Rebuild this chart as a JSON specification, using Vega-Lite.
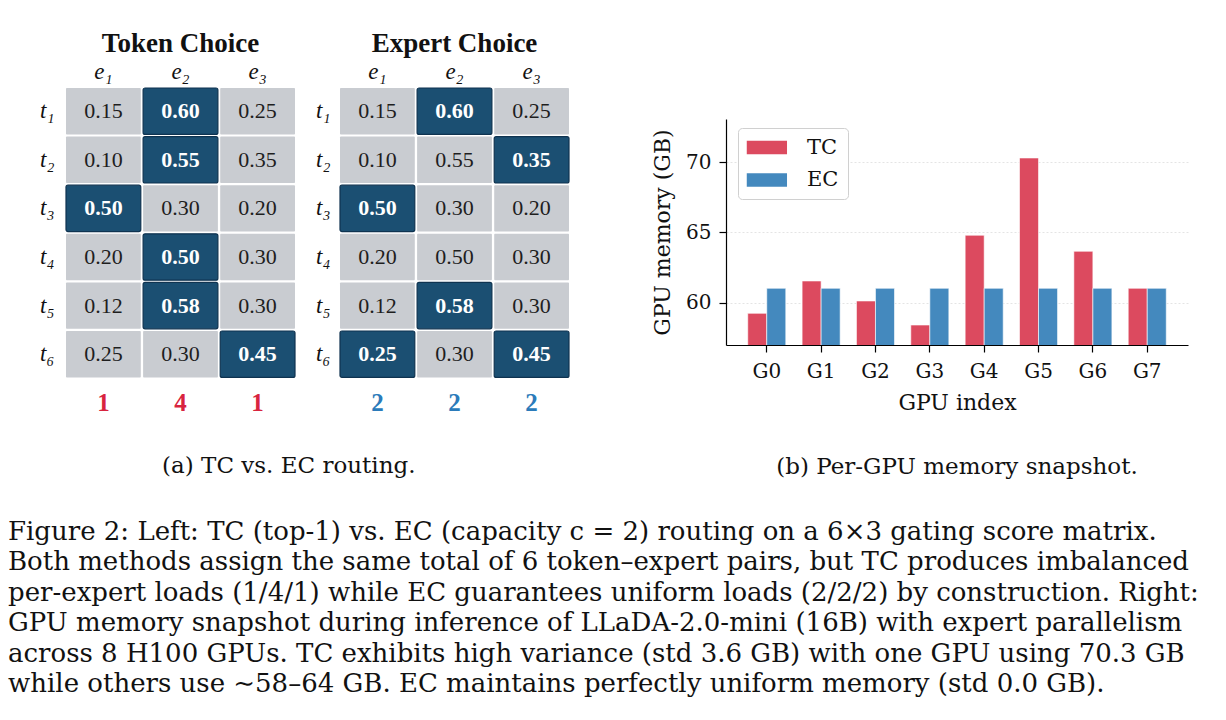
{
  "$schema": "https://vega.github.io/schema/vega-lite/v6.json",
  "background": "white",
  "padding": {"left": 8, "top": 30, "right": 5, "bottom": 5},
  "datasets": {
    "heat": [
      {"panel": "TC", "token": "t₁", "expert": "e₁", "score": 0.15, "sel": "no"},
      {"panel": "TC", "token": "t₁", "expert": "e₂", "score": 0.60, "sel": "yes"},
      {"panel": "TC", "token": "t₁", "expert": "e₃", "score": 0.25, "sel": "no"},
      {"panel": "TC", "token": "t₂", "expert": "e₁", "score": 0.10, "sel": "no"},
      {"panel": "TC", "token": "t₂", "expert": "e₂", "score": 0.55, "sel": "yes"},
      {"panel": "TC", "token": "t₂", "expert": "e₃", "score": 0.35, "sel": "no"},
      {"panel": "TC", "token": "t₃", "expert": "e₁", "score": 0.50, "sel": "yes"},
      {"panel": "TC", "token": "t₃", "expert": "e₂", "score": 0.30, "sel": "no"},
      {"panel": "TC", "token": "t₃", "expert": "e₃", "score": 0.20, "sel": "no"},
      {"panel": "TC", "token": "t₄", "expert": "e₁", "score": 0.20, "sel": "no"},
      {"panel": "TC", "token": "t₄", "expert": "e₂", "score": 0.50, "sel": "yes"},
      {"panel": "TC", "token": "t₄", "expert": "e₃", "score": 0.30, "sel": "no"},
      {"panel": "TC", "token": "t₅", "expert": "e₁", "score": 0.12, "sel": "no"},
      {"panel": "TC", "token": "t₅", "expert": "e₂", "score": 0.58, "sel": "yes"},
      {"panel": "TC", "token": "t₅", "expert": "e₃", "score": 0.30, "sel": "no"},
      {"panel": "TC", "token": "t₆", "expert": "e₁", "score": 0.25, "sel": "no"},
      {"panel": "TC", "token": "t₆", "expert": "e₂", "score": 0.30, "sel": "no"},
      {"panel": "TC", "token": "t₆", "expert": "e₃", "score": 0.45, "sel": "yes"},
      {"panel": "EC", "token": "t₁", "expert": "e₁", "score": 0.15, "sel": "no"},
      {"panel": "EC", "token": "t₁", "expert": "e₂", "score": 0.60, "sel": "yes"},
      {"panel": "EC", "token": "t₁", "expert": "e₃", "score": 0.25, "sel": "no"},
      {"panel": "EC", "token": "t₂", "expert": "e₁", "score": 0.10, "sel": "no"},
      {"panel": "EC", "token": "t₂", "expert": "e₂", "score": 0.55, "sel": "no"},
      {"panel": "EC", "token": "t₂", "expert": "e₃", "score": 0.35, "sel": "yes"},
      {"panel": "EC", "token": "t₃", "expert": "e₁", "score": 0.50, "sel": "yes"},
      {"panel": "EC", "token": "t₃", "expert": "e₂", "score": 0.30, "sel": "no"},
      {"panel": "EC", "token": "t₃", "expert": "e₃", "score": 0.20, "sel": "no"},
      {"panel": "EC", "token": "t₄", "expert": "e₁", "score": 0.20, "sel": "no"},
      {"panel": "EC", "token": "t₄", "expert": "e₂", "score": 0.50, "sel": "no"},
      {"panel": "EC", "token": "t₄", "expert": "e₃", "score": 0.30, "sel": "no"},
      {"panel": "EC", "token": "t₅", "expert": "e₁", "score": 0.12, "sel": "no"},
      {"panel": "EC", "token": "t₅", "expert": "e₂", "score": 0.58, "sel": "yes"},
      {"panel": "EC", "token": "t₅", "expert": "e₃", "score": 0.30, "sel": "no"},
      {"panel": "EC", "token": "t₆", "expert": "e₁", "score": 0.25, "sel": "yes"},
      {"panel": "EC", "token": "t₆", "expert": "e₂", "score": 0.30, "sel": "no"},
      {"panel": "EC", "token": "t₆", "expert": "e₃", "score": 0.45, "sel": "yes"}
    ],
    "loads": [
      {"panel": "TC", "token": "load", "expert": "e₁", "load": 1},
      {"panel": "TC", "token": "load", "expert": "e₂", "load": 4},
      {"panel": "TC", "token": "load", "expert": "e₃", "load": 1},
      {"panel": "EC", "token": "load", "expert": "e₁", "load": 2},
      {"panel": "EC", "token": "load", "expert": "e₂", "load": 2},
      {"panel": "EC", "token": "load", "expert": "e₃", "load": 2}
    ],
    "gpu": [
      {"gpu": "G0", "method": "TC", "mem": 59.25},
      {"gpu": "G0", "method": "EC", "mem": 61.03},
      {"gpu": "G1", "method": "TC", "mem": 61.55},
      {"gpu": "G1", "method": "EC", "mem": 61.03},
      {"gpu": "G2", "method": "TC", "mem": 60.13},
      {"gpu": "G2", "method": "EC", "mem": 61.03},
      {"gpu": "G3", "method": "TC", "mem": 58.42},
      {"gpu": "G3", "method": "EC", "mem": 61.03},
      {"gpu": "G4", "method": "TC", "mem": 64.80},
      {"gpu": "G4", "method": "EC", "mem": 61.03},
      {"gpu": "G5", "method": "TC", "mem": 70.29},
      {"gpu": "G5", "method": "EC", "mem": 61.03},
      {"gpu": "G6", "method": "TC", "mem": 63.66},
      {"gpu": "G6", "method": "EC", "mem": 61.03},
      {"gpu": "G7", "method": "TC", "mem": 61.03},
      {"gpu": "G7", "method": "EC", "mem": 61.03}
    ]
  },
  "title": {
    "text": [
      "Figure 2:  Left:  TC (top-1) vs. EC (capacity c = 2) routing on a 6×3 gating score matrix.",
      "Both methods assign the same total of 6 token–expert pairs, but TC produces imbalanced",
      "per-expert loads (1/4/1) while EC guarantees uniform loads (2/2/2) by construction.  Right:",
      "GPU memory snapshot during inference of LLaDA-2.0-mini (16B) with expert parallelism",
      "across 8 H100 GPUs.  TC exhibits high variance (std 3.6 GB) with one GPU using 70.3 GB",
      "while others use ∼58–64 GB. EC maintains perfectly uniform memory (std 0.0 GB)."
    ],
    "orient": "bottom",
    "anchor": "start",
    "font": "DejaVu Serif",
    "fontSize": 26,
    "fontWeight": "normal",
    "color": "#111111",
    "lineHeight": 30.4,
    "offset": 40
  },
  "spacing": 81,
  "hconcat": [
    {
      "spacing": 14,
      "title": {"text": "(a) TC vs. EC routing.", "orient": "bottom", "anchor": "middle", "font": "DejaVu Serif", "fontSize": 23, "fontWeight": "normal", "color": "#111111", "offset": 29},
      "hconcat": [
        {
          "width": 229,
          "height": 338,
          "title": {"text": "Token Choice", "font": "Liberation Serif", "fontSize": 27, "fontWeight": "bold", "color": "#111111", "offset": 2},
          "encoding": {
            "x": {"field": "expert", "type": "nominal", "title": null,
              "scale": {"domain": ["e₁", "e₂", "e₃"], "paddingInner": 0.03, "paddingOuter": 0},
              "axis": {"orient": "top", "ticks": false, "domain": false, "labelAngle": 0, "labelFont": "Liberation Serif", "labelFontStyle": "italic", "labelFontSize": 23, "labelColor": "#111111", "labelPadding": 5}},
            "y": {"field": "token", "type": "nominal", "title": null,
              "scale": {"domain": ["t₁", "t₂", "t₃", "t₄", "t₅", "t₆", "load"], "paddingInner": 0.045, "paddingOuter": 0},
              "axis": {"ticks": false, "domain": false, "labelExpr": "datum.value == 'load' ? '' : datum.value", "labelFont": "Liberation Serif", "labelFontStyle": "italic", "labelFontSize": 23, "labelColor": "#111111", "labelPadding": 12, "minExtent": 58, "maxExtent": 58}}
          },
          "layer": [
            {"data": {"name": "heat"}, "transform": [{"filter": "datum.panel == 'TC' && datum.sel == 'no'"}],
             "mark": {"type": "rect", "fill": "#c9ccd1", "cornerRadius": 1}},
            {"data": {"name": "heat"}, "transform": [{"filter": "datum.panel == 'TC' && datum.sel == 'yes'"}],
             "mark": {"type": "rect", "fill": "#1b4f72", "stroke": "#0f3350", "strokeWidth": 1.2, "cornerRadius": 2}},
            {"data": {"name": "heat"}, "transform": [{"filter": "datum.panel == 'TC' && datum.sel == 'no'"}],
             "mark": {"type": "text", "font": "Liberation Serif", "fontSize": 22, "color": "#1e1e1e"},
             "encoding": {"text": {"field": "score", "type": "quantitative", "format": ".2f"}}},
            {"data": {"name": "heat"}, "transform": [{"filter": "datum.panel == 'TC' && datum.sel == 'yes'"}],
             "mark": {"type": "text", "font": "Liberation Serif", "fontSize": 22, "fontWeight": "bold", "color": "white"},
             "encoding": {"text": {"field": "score", "type": "quantitative", "format": ".2f"}}},
            {"data": {"name": "loads"}, "transform": [{"filter": "datum.panel == 'TC'"}],
             "mark": {"type": "text", "font": "Liberation Serif", "fontSize": 25, "fontWeight": "bold", "color": "#d8243f"},
             "encoding": {"text": {"field": "load", "type": "quantitative"}}}
          ]
        },
        {
          "width": 229,
          "height": 338,
          "title": {"text": "Expert Choice", "font": "Liberation Serif", "fontSize": 27, "fontWeight": "bold", "color": "#111111", "offset": 2},
          "encoding": {
            "x": {"field": "expert", "type": "nominal", "title": null,
              "scale": {"domain": ["e₁", "e₂", "e₃"], "paddingInner": 0.03, "paddingOuter": 0},
              "axis": {"orient": "top", "ticks": false, "domain": false, "labelAngle": 0, "labelFont": "Liberation Serif", "labelFontStyle": "italic", "labelFontSize": 23, "labelColor": "#111111", "labelPadding": 5}},
            "y": {"field": "token", "type": "nominal", "title": null,
              "scale": {"domain": ["t₁", "t₂", "t₃", "t₄", "t₅", "t₆", "load"], "paddingInner": 0.045, "paddingOuter": 0},
              "axis": {"ticks": false, "domain": false, "labelExpr": "datum.value == 'load' ? '' : datum.value", "labelFont": "Liberation Serif", "labelFontStyle": "italic", "labelFontSize": 23, "labelColor": "#111111", "labelPadding": 10, "minExtent": 30, "maxExtent": 30}}
          },
          "layer": [
            {"data": {"name": "heat"}, "transform": [{"filter": "datum.panel == 'EC' && datum.sel == 'no'"}],
             "mark": {"type": "rect", "fill": "#c9ccd1", "cornerRadius": 1}},
            {"data": {"name": "heat"}, "transform": [{"filter": "datum.panel == 'EC' && datum.sel == 'yes'"}],
             "mark": {"type": "rect", "fill": "#1b4f72", "stroke": "#0f3350", "strokeWidth": 1.2, "cornerRadius": 2}},
            {"data": {"name": "heat"}, "transform": [{"filter": "datum.panel == 'EC' && datum.sel == 'no'"}],
             "mark": {"type": "text", "font": "Liberation Serif", "fontSize": 22, "color": "#1e1e1e"},
             "encoding": {"text": {"field": "score", "type": "quantitative", "format": ".2f"}}},
            {"data": {"name": "heat"}, "transform": [{"filter": "datum.panel == 'EC' && datum.sel == 'yes'"}],
             "mark": {"type": "text", "font": "Liberation Serif", "fontSize": 22, "fontWeight": "bold", "color": "white"},
             "encoding": {"text": {"field": "score", "type": "quantitative", "format": ".2f"}}},
            {"data": {"name": "loads"}, "transform": [{"filter": "datum.panel == 'EC'"}],
             "mark": {"type": "text", "font": "Liberation Serif", "fontSize": 25, "fontWeight": "bold", "color": "#2b7bba"},
             "encoding": {"text": {"field": "load", "type": "quantitative"}}}
          ]
        }
      ]
    },
    {
      "title": {"text": "(b) Per-GPU memory snapshot.", "orient": "bottom", "anchor": "middle", "font": "DejaVu Serif", "fontSize": 23, "fontWeight": "normal", "color": "#111111", "offset": 43},
      "width": 462,
      "height": 257,
      "data": {"name": "gpu"},
      "mark": {"type": "bar", "stroke": "white", "strokeWidth": 0.6, "clip": true},
      "encoding": {
        "x": {"field": "gpu", "type": "nominal", "title": "GPU index",
          "scale": {"paddingInner": 0.3, "paddingOuter": 0.4},
          "axis": {"labelAngle": 0, "labelFont": "DejaVu Serif", "labelFontSize": 20, "labelColor": "#111111", "tickSize": 7, "tickColor": "black", "tickWidth": 1.2, "domainColor": "black", "domainWidth": 1.2, "labelPadding": 9, "titleFont": "DejaVu Serif", "titleFontSize": 22, "titleFontWeight": "normal", "titleColor": "#111111", "titlePadding": 11, "grid": false}},
        "xOffset": {"field": "method", "type": "nominal", "scale": {"domain": ["TC", "EC"], "paddingInner": 0, "paddingOuter": 0}},
        "y": {"field": "mem", "type": "quantitative", "title": "GPU memory (GB)",
          "scale": {"domain": [57, 73.06], "nice": false, "zero": false, "range": [257, 31]},
          "axis": {"values": [60, 65, 70], "labelFont": "DejaVu Serif", "labelFontSize": 20, "labelColor": "#111111", "tickSize": 7, "tickColor": "black", "tickWidth": 1.2, "domainColor": "black", "domainWidth": 1.2, "labelPadding": 8, "titleFont": "DejaVu Serif", "titleFontSize": 22, "titleFontWeight": "normal", "titleColor": "#111111", "titlePadding": 11, "minExtent": 41, "maxExtent": 41, "grid": true, "gridColor": "#dddddd", "gridDash": [2, 2], "gridWidth": 0.8}},
        "color": {"field": "method", "type": "nominal",
          "scale": {"domain": ["TC", "EC"], "range": ["#dc4a5f", "#4489be"]},
          "legend": {"title": null, "orient": "none", "legendX": 672, "legendY": 40, "padding": 9, "rowPadding": 10.5, "labelOffset": 39, "labelFont": "DejaVu Serif", "labelFontSize": 21, "labelColor": "#111111", "symbolType": "M-1.6,-1H4.4V1H-1.6Z", "symbolSize": 180, "symbolStrokeWidth": 0, "strokeColor": "#d0d0d0", "cornerRadius": 4, "fillColor": "white"}}
      }
    }
  ],
  "config": {
    "view": {"stroke": null},
    "font": "Liberation Serif"
  }
}
